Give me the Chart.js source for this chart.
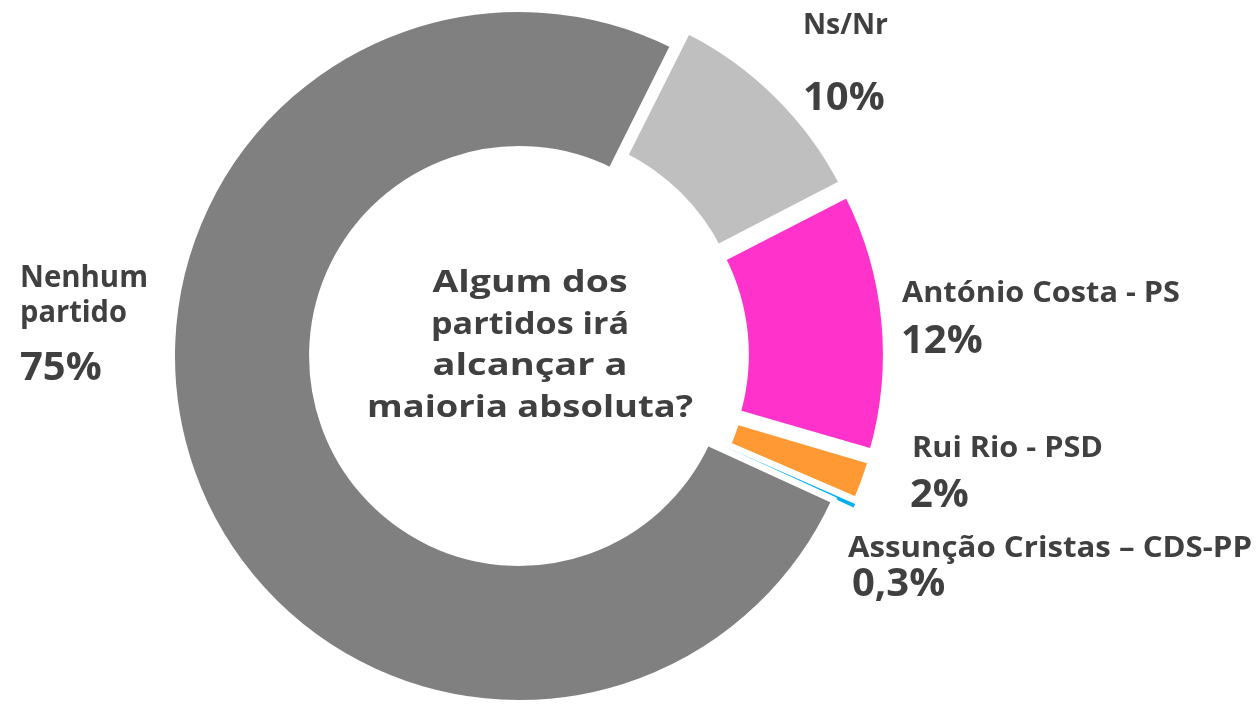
<!DOCTYPE html>
<html>
<head>
<meta charset="utf-8">
<script src="https://cdn.jsdelivr.net/npm/chart.js@4"></script>
<style>
    html, body { margin: 0; padding: 0; background: #fff; }
    #wrap { width: 1256px; height: 707px; position: relative; }
</style>
</head>
<body>
<div id="wrap"><canvas id="donutChart"></canvas></div>
<script>
// data
const labels = ['Ns/Nr', 'António Costa - PS', 'Rui Rio - PSD', 'Assunção Cristas – CDS-PP', 'Nenhum partido'];
const values = [10, 12, 2, 0.3, 75];
const valueLabels = ['10%', '12%', '2%', '0,3%', '75%'];
const nameLines = [['Ns/Nr'], ['António Costa - PS'], ['Rui Rio - PSD'], ['Assunção Cristas – CDS-PP'], ['Nenhum', 'partido']];
const centerLines = ['Algum dos', 'partidos irá', 'alcançar a', 'maioria absoluta?'];

const colors = ['#bfbfbf', '#ff33cc', '#ff9933', '#00b0f0', '#808080'];
const textColor = '#404040';
const fontFamily = '"Open Sans", "Liberation Sans", sans-serif';

// label placement: left x, baselines and widths of the name lines, value position
const labelPos = [
    { x: 803, names: [34], widths: [85], nameSize: 28, vx: 803, vy: 110 },
    { x: 902, names: [302], widths: [278], nameSize: 29, vx: 901, vy: 353 },
    { x: 912, names: [457], widths: [191], nameSize: 29, vx: 910, vy: 507 },
    { x: 848, names: [557], widths: [404], nameSize: 28, vx: 852, vy: 596 },
    { x: 20, names: [287, 322], widths: [128, 107], nameSize: 30, vx: 20, vy: 380 }
];
const centerWidths = [195, 198, 195, 326];

// draw text stretched horizontally to a given width
function fitText(ctx, text, x, y, width) {
    const w0 = ctx.measureText(text).width;
    const sx = width ? width / w0 : 1;
    ctx.save();
    ctx.translate(x, y);
    ctx.scale(sx, 1);
    ctx.fillText(text, 0, 0);
    ctx.restore();
}

const labelsPlugin = {
    id: 'labelsPlugin',
    afterDraw(chart) {
        const ctx = chart.ctx;
        ctx.save();
        ctx.fillStyle = textColor;
        ctx.textBaseline = 'alphabetic';
        ctx.textAlign = 'left';
        labelPos.forEach((p, i) => {
            ctx.font = `bold ${p.nameSize}px ${fontFamily}`;
            nameLines[i].forEach((line, j) => fitText(ctx, line, p.x, p.names[j], p.widths[j]));
            ctx.font = `bold 40px ${fontFamily}`;
            ctx.fillText(valueLabels[i], p.vx, p.vy);
        });

        // centre question
        const arc = chart.getDatasetMeta(0).data[0];
        ctx.textAlign = 'center';
        ctx.font = `bold 30px ${fontFamily}`;
        centerLines.forEach((line, j) => fitText(ctx, line, arc.x + 11, 292 + j * 41.7, centerWidths[j]));
        ctx.restore();
    }
};

const ctx = document.getElementById('donutChart').getContext('2d');
new Chart(ctx, {
    type: 'doughnut',
    data: {
        labels,
        datasets: [{
            data: values,
            backgroundColor: colors,
            borderColor: '#ffffff',
            borderWidth: [7, 7, 7, 0, 7],
            // chart.js scales offset by arc size; these give ~20px shift
            offset: [57, 61, 43, 40, 0]
        }]
    },
    options: {
        responsive: true, maintainAspectRatio: false, animation: false,
        rotation: 26.5,
        radius: 347.5,
        cutout: '59.4%',
        layout: { padding: { left: 0, right: 218, top: 5, bottom: 0 } },
        plugins: { legend: { display: false }, tooltip: { enabled: false } }
    },
    plugins: [labelsPlugin]
});
</script>
</body>
</html>
